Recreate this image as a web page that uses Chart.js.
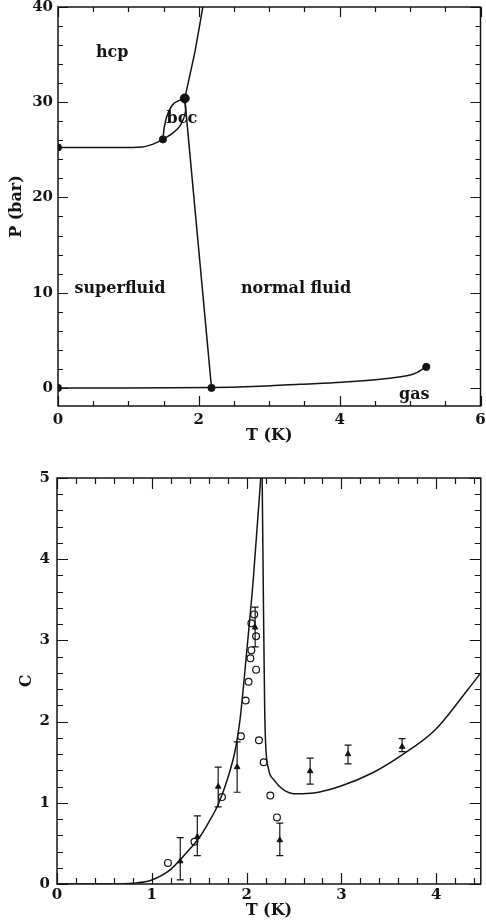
<!DOCTYPE html>
<html>
<head>
<meta charset="utf-8">
<title>Helium-4 phase diagram and specific heat</title>
<script src="https://cdn.jsdelivr.net/npm/chart.js@4.4.0/dist/chart.umd.min.js"></script>
<style>
  body { margin: 0; background: #fff; }
  canvas { position: absolute; left: 0; }
</style>
</head>
<body>
<canvas id="phaseChart" width="486" height="450" style="top:0"></canvas>
<canvas id="heatChart" width="486" height="463" style="top:460px"></canvas>
<script>
// ---- top panel: P-T phase diagram ----
const meltT = [0, 0.6, 1.2, 1.35, 1.49];
const meltP = [25.25, 25.25, 25.3, 25.6, 26.1];
const bccUpperT = [1.49, 1.51, 1.56, 1.65, 1.80];
const bccUpperP = [26.1, 27.4, 28.8, 29.9, 30.4];
const bccLowerT = [1.49, 1.62, 1.74, 1.81, 1.80];
const bccLowerP = [26.1, 26.7, 27.6, 29.0, 30.4];
const hcpLiquidT = [1.80, 1.95, 2.08];
const hcpLiquidP = [30.4, 35.5, 41];
const lambdaT = [1.80, 2.18];
const lambdaP = [30.4, 0];
const vaporT = [0, 1.0, 2.18, 2.77, 3.43, 4.03, 4.61, 5.04, 5.23];
const vaporP = [0, 0, 0.03, 0.14, 0.38, 0.6, 0.94, 1.43, 2.2];
const specialT = [0, 1.49, 0, 2.18, 5.23];
const specialP = [25.25, 26.1, 0, 0, 2.2];
const upperTripleT = [1.80];
const upperTripleP = [30.4];
const phaseTTicks = [0, 2, 4, 6];
const phasePTicks = [0, 10, 20, 30, 40];

// ---- bottom panel: specific heat ----
const belowLambdaT = [0, 0.6, 0.8, 1.0, 1.2, 1.3, 1.4, 1.5, 1.6, 1.7, 1.8, 1.88, 1.93, 2.0, 2.07, 2.155];
const belowLambdaC = [0, 0, 0.01, 0.05, 0.18, 0.3, 0.43, 0.57, 0.76, 0.98, 1.3, 1.65, 2.02, 2.85, 3.75, 5.1];
const aboveLambdaT = [2.163, 2.178, 2.19, 2.2, 2.23, 2.29, 2.39, 2.53, 2.71, 2.98, 3.33, 3.64, 3.99, 4.33, 4.47];
const aboveLambdaC = [5.1, 3.4, 2.2, 1.74, 1.42, 1.28, 1.16, 1.11, 1.12, 1.2, 1.37, 1.59, 1.9, 2.39, 2.6];
const measT = [1.30, 1.48, 1.70, 1.90, 2.09, 2.35, 2.67, 3.07, 3.64];
const measC = [0.28, 0.58, 1.20, 1.44, 3.16, 0.54, 1.39, 1.60, 1.69];
const measLo = [0.05, 0.35, 0.95, 1.13, 2.92, 0.35, 1.23, 1.48, 1.63];
const measHi = [0.57, 0.84, 1.44, 1.75, 3.41, 0.75, 1.55, 1.71, 1.79];
const openT = [1.17, 1.45, 1.74, 1.94, 1.99, 2.02, 2.04, 2.05, 2.05, 2.08, 2.10, 2.10, 2.13, 2.18, 2.25, 2.32];
const openC = [0.26, 0.52, 1.07, 1.82, 2.26, 2.49, 2.78, 2.88, 3.21, 3.32, 3.05, 2.64, 1.77, 1.50, 1.09, 0.82];
const heatTTicks = [0, 1, 2, 3, 4];
const heatCTicks = [0, 1, 2, 3, 4, 5];

const ink = '#141414';
const serif = "'DejaVu Serif', 'Liberation Serif', serif";

const pts = (xs, ys) => xs.map((x, i) => ({ x: x, y: ys[i] }));

function line(xs, ys, extra) {
  return Object.assign({
    data: pts(xs, ys), showLine: true, borderColor: ink, borderWidth: 1.5,
    pointRadius: 0, tension: 0.35, fill: false
  }, extra || {});
}

function dots(xs, ys, extra) {
  return Object.assign({
    data: pts(xs, ys), showLine: false, pointRadius: 3.6, pointStyle: 'circle',
    pointBackgroundColor: ink, pointBorderColor: ink, pointBorderWidth: 1
  }, extra || {});
}

// frame, inward ticks on all four sides, error bars and text labels
const framePlugin = {
  id: 'frame',
  afterDatasetsDraw(chart, args, opts) {
    const { ctx, chartArea: a, scales: { x, y } } = chart;
    ctx.save();
    ctx.strokeStyle = ink;
    ctx.fillStyle = ink;
    ctx.lineWidth = 1.5;
    ctx.strokeRect(a.left, a.top, a.right - a.left, a.bottom - a.top);

    ctx.lineWidth = 1.2;
    ctx.beginPath();
    const xTicks = [];
    for (let v = x.min; v <= x.max + 1e-9; v += opts.xMinor) xTicks.push(+v.toFixed(4));
    xTicks.forEach(v => {
      const px = Math.round(x.getPixelForValue(v)) + 0.5;
      const len = opts.xMajor.includes(v) ? opts.majorLen : opts.minorLen;
      ctx.moveTo(px, a.bottom); ctx.lineTo(px, a.bottom - len);
      ctx.moveTo(px, a.top); ctx.lineTo(px, a.top + len);
    });
    const yStart = Math.ceil(y.min / opts.yMinor) * opts.yMinor;
    for (let v = yStart; v <= y.max + 1e-9; v += opts.yMinor) {
      const val = +v.toFixed(4);
      const py = Math.round(y.getPixelForValue(val)) + 0.5;
      const len = opts.yMajor.includes(val) ? opts.majorLen : opts.minorLen;
      ctx.moveTo(a.left, py); ctx.lineTo(a.left + len, py);
      ctx.moveTo(a.right, py); ctx.lineTo(a.right - len, py);
    }
    ctx.stroke();

    if (opts.errors) {
      const e = opts.errors;
      ctx.lineWidth = 1.2;
      ctx.beginPath();
      e.x.forEach((v, i) => {
        const px = x.getPixelForValue(v);
        const lo = y.getPixelForValue(e.lo[i]);
        const hi = y.getPixelForValue(e.hi[i]);
        ctx.moveTo(px, lo); ctx.lineTo(px, hi);
        ctx.moveTo(px - 3.5, lo); ctx.lineTo(px + 3.5, lo);
        ctx.moveTo(px - 3.5, hi); ctx.lineTo(px + 3.5, hi);
      });
      ctx.stroke();
    }

    if (opts.labels) {
      ctx.font = 'bold 16px ' + serif;
      ctx.textAlign = 'center';
      ctx.textBaseline = 'middle';
      opts.labels.forEach(l => {
        ctx.fillText(l.text, x.getPixelForValue(l.x), y.getPixelForValue(l.y));
      });
    }
    ctx.restore();
  }
};

function axis(cfg) {
  return {
    type: 'linear',
    min: cfg.min,
    max: cfg.max,
    position: cfg.position,
    afterBuildTicks: s => { s.ticks = cfg.ticks.map(v => ({ value: v })); },
    afterFit: s => {
      if (cfg.position === 'bottom') s.height = cfg.size; else s.width = cfg.size;
      s.paddingTop = 0; s.paddingBottom = 0; s.paddingLeft = 0; s.paddingRight = 0;
    },
    grid: { display: false, drawTicks: false },
    border: { display: false },
    ticks: { color: ink, padding: cfg.pad, maxRotation: 0, autoSkip: false,
             font: { family: serif, size: 15, weight: 'bold' } },
    title: { display: true, text: cfg.title, color: ink, padding: cfg.titlePad,
             font: { family: serif, size: 16, weight: 'bold' } }
  };
}

const baseOptions = {
  responsive: false,
  devicePixelRatio: 1,
  animation: false,
  events: [],
  plugins: { legend: { display: false }, tooltip: { enabled: false } }
};

new Chart(document.getElementById('phaseChart'), {
  type: 'scatter',
  data: {
    datasets: [
      line(meltT, meltP),
      line(bccUpperT, bccUpperP, { tension: 0.25 }),
      line(bccLowerT, bccLowerP, { tension: 0.25 }),
      line(hcpLiquidT, hcpLiquidP, { tension: 0.15 }),
      line(lambdaT, lambdaP, { tension: 0 }),
      line(vaporT, vaporP),
      dots(specialT, specialP),
      dots(upperTripleT, upperTripleP, { pointRadius: 4.5 })
    ]
  },
  options: Object.assign({}, baseOptions, {
    layout: { padding: { top: 7, right: 5, bottom: 0, left: 0 } },
    scales: {
      x: axis({ min: 0, max: 6, position: 'bottom', ticks: phaseTTicks, size: 44, pad: 5,
                title: 'T (K)', titlePad: { top: 0, bottom: 5 } }),
      y: axis({ min: -1.9, max: 40, position: 'left', ticks: phasePTicks, size: 58, pad: 5,
                title: 'P (bar)', titlePad: { top: 7, bottom: 0 } })
    },
    plugins: Object.assign({}, baseOptions.plugins, {
      frame: {
        xMinor: 0.5, xMajor: phaseTTicks, yMinor: 2, yMajor: phasePTicks,
        majorLen: 10, minorLen: 5,
        labels: [
          { text: 'hcp', x: 0.77, y: 35.2 },
          { text: 'bcc', x: 1.76, y: 28.3 },
          { text: 'superfluid', x: 0.88, y: 10.4 },
          { text: 'normal fluid', x: 3.38, y: 10.4 },
          { text: 'gas', x: 5.06, y: -0.7 }
        ]
      }
    })
  }),
  plugins: [framePlugin]
});

new Chart(document.getElementById('heatChart'), {
  type: 'scatter',
  data: {
    datasets: [
      line(belowLambdaT, belowLambdaC, { cubicInterpolationMode: 'monotone' }),
      line(aboveLambdaT, aboveLambdaC, { cubicInterpolationMode: 'monotone' }),
      dots(openT, openC, { pointRadius: 3.4, pointBackgroundColor: 'rgba(255,255,255,0)', pointBorderWidth: 1.2 }),
      dots(measT, measC, { pointStyle: 'triangle', pointRadius: 3.2 })
    ]
  },
  options: Object.assign({}, baseOptions, {
    layout: { padding: { top: 18, right: 1, bottom: 0, left: 0 } },
    scales: {
      x: axis({ min: 0, max: 4.47, position: 'bottom', ticks: heatTTicks, size: 39, pad: 2,
                title: 'T (K)', titlePad: { top: 0, bottom: 3 } }),
      y: axis({ min: 0, max: 5, position: 'left', ticks: heatCTicks, size: 57, pad: 7,
                title: 'C', titlePad: { top: 17, bottom: 0 } })
    },
    plugins: Object.assign({}, baseOptions.plugins, {
      frame: {
        xMinor: 0.2, xMajor: heatTTicks, yMinor: 0.2, yMajor: heatCTicks,
        majorLen: 11, minorLen: 6,
        errors: { x: measT, lo: measLo, hi: measHi }
      }
    })
  }),
  plugins: [framePlugin]
});
</script>
</body>
</html>
